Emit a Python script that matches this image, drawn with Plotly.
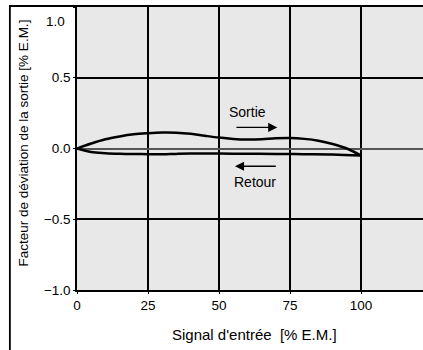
import plotly.graph_objects as go

# Data
sortie_x = [0, 5, 10, 15, 20, 25, 30, 35, 40, 45, 50, 55, 60, 65, 70, 75, 80, 85, 90, 95, 100]
sortie_y = [0.0, 0.035, 0.065, 0.085, 0.100, 0.108, 0.113, 0.112, 0.104, 0.090, 0.077, 0.068,
            0.064, 0.066, 0.072, 0.074, 0.068, 0.055, 0.032, 0.0, -0.05]
retour_x = [0, 5, 10, 15, 20, 25, 30, 35, 40, 50, 60, 70, 80, 90, 100]
retour_y = [0.0, -0.025, -0.033, -0.037, -0.039, -0.040, -0.041, -0.038, -0.036, -0.036,
            -0.037, -0.038, -0.040, -0.042, -0.05]

x_ticks = [0, 25, 50, 75, 100]
x_tick_labels = ["0", "25", "50", "75", "100"]
y_ticks = [-1.0, -0.5, 0.0, 0.5, 1.0]
y_tick_labels = ["\u22121.0", "\u22120.5", "0.0", "0.5", ""]
top_label = "1.0"

FONT = "Liberation Sans, Arial, Helvetica, sans-serif"

fig = go.Figure()
fig.add_trace(go.Scatter(x=sortie_x, y=sortie_y, mode="lines",
                         line=dict(color="black", width=2.5, shape="spline", smoothing=1.0),
                         showlegend=False, hoverinfo="skip"))
fig.add_trace(go.Scatter(x=retour_x, y=retour_y, mode="lines",
                         line=dict(color="black", width=2.5, shape="spline", smoothing=1.0),
                         showlegend=False, hoverinfo="skip"))

annotations = [
    dict(x=70.5, y=0.149, ax=55.6, ay=0.149, xref="x", yref="y", axref="x", ayref="y",
         text="", showarrow=True, arrowhead=2, arrowsize=1.3, arrowwidth=1.4, arrowcolor="black"),
    dict(x=55.6, y=-0.125, ax=70.5, ay=-0.125, xref="x", yref="y", axref="x", ayref="y",
         text="", showarrow=True, arrowhead=2, arrowsize=1.3, arrowwidth=1.4, arrowcolor="black"),
    dict(x=60.0, y=0.255, xref="x", yref="y", text="Sortie", showarrow=False,
         font=dict(family=FONT, size=14, color="black")),
    dict(x=62.5, y=-0.235, xref="x", yref="y", text="Retour", showarrow=False,
         font=dict(family=FONT, size=14, color="black")),
    # axis titles
    dict(x=0.514, y=-0.159, xref="paper", yref="paper", text="Signal d'entrée&nbsp;&nbsp;[% E.M.]",
         showarrow=False, xanchor="center", yanchor="middle",
         font=dict(family=FONT, size=15, color="black")),
    dict(x=-0.155, y=0.519, xref="paper", yref="paper", text="Facteur de déviation de la sortie [% E.M.]",
         showarrow=False, xanchor="center", yanchor="middle", textangle=-90,
         font=dict(family=FONT, size=13.5, color="black")),
    # top tick label (drawn slightly below the top edge, as in the reference)
    dict(x=-0.028, y=0.948, xref="paper", yref="paper", text=top_label, showarrow=False,
         xanchor="right", yanchor="middle", font=dict(family=FONT, size=13.5, color="black")),
]

# outer frame (cut off at right and bottom)
shapes = [
    dict(type="rect", xref="paper", yref="paper", x0=-0.194, x1=1.05, y0=-0.3, y1=1.0035,
         line=dict(color="black", width=1.8), fillcolor="rgba(0,0,0,0)", layer="above"),
]

fig.update_layout(
    width=423, height=350,
    margin=dict(l=77, r=0, t=7, b=60, autoexpand=False),
    paper_bgcolor="white",
    plot_bgcolor="#e8e8e8",
    font=dict(family=FONT, size=13.5, color="black"),
    annotations=annotations,
    shapes=shapes,
    xaxis=dict(
        range=[0, 121.8], tickvals=x_ticks, ticktext=x_tick_labels,
        showgrid=True, gridcolor="black", gridwidth=1.5,
        zeroline=False, showline=True, linecolor="black", linewidth=1.5,
        ticks="outside", ticklen=2, tickcolor="black",
        automargin=False,
        tickfont=dict(size=13.5),
    ),
    yaxis=dict(
        range=[-1.0, 1.0], tickvals=y_ticks, ticktext=y_tick_labels,
        showgrid=True, gridcolor="black", gridwidth=1.5,
        zeroline=True, zerolinecolor="#555555", zerolinewidth=1.5,
        showline=True, linecolor="black", linewidth=1.5,
        ticks="outside", ticklen=2, tickcolor="black",
        automargin=False,
        tickfont=dict(size=13.5),
    ),
)

fig.write_html("out.html", config={"displayModeBar": False},
               post_script="document.body.style.margin='0';")
